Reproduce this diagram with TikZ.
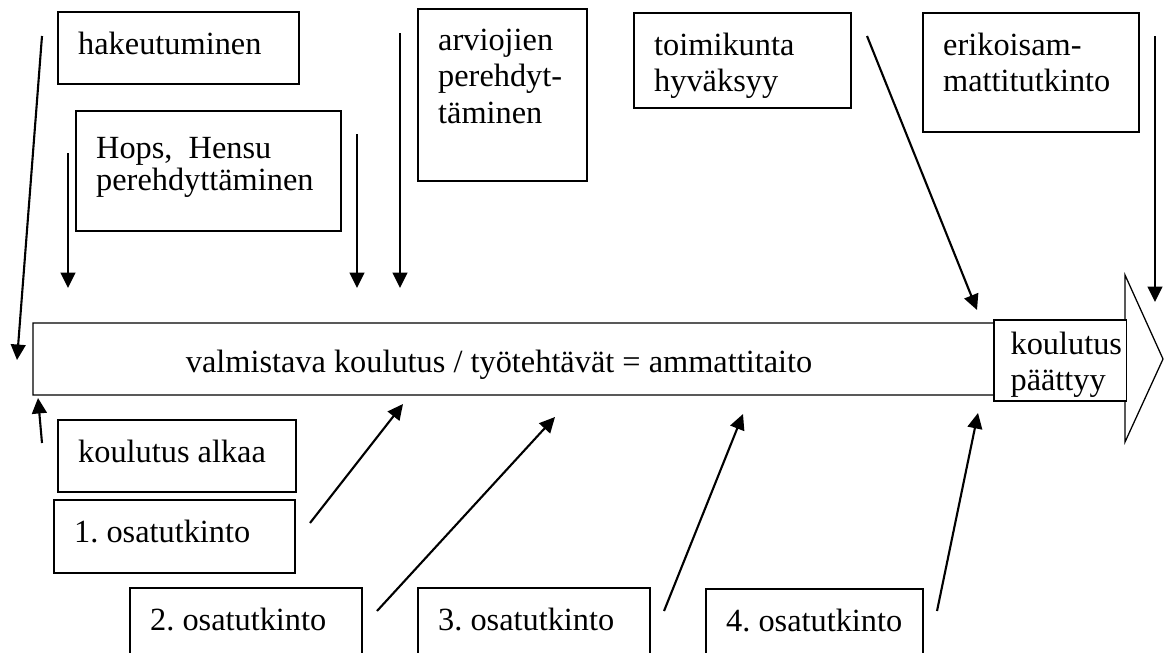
\documentclass[tikz,border=0pt]{standalone}
\usepackage{fontspec}
\setmainfont{Liberation Serif}
\usetikzlibrary{arrows.meta}
\newlength{\pxu}
\setlength{\pxu}{0.025cm}
\newcommand{\boxtext}[3]{\begin{minipage}[t][#2\pxu][t]{#1\pxu}\raggedright #3\end{minipage}}
\tikzset{
  tbox/.style={draw, line width=1.7pt, anchor=north west, inner sep=0.5cm, fill=white},
  arr/.style={-{Triangle[length=11pt,width=10.5pt]}, line width=1.5pt},
}

\begin{document}
\frenchspacing
\begin{tikzpicture}[x=0.025cm, y=-0.025cm, font=\fontsize{23}{25.8}\selectfont]
\clip (0,0) rectangle (1168,652);
% the long block arrow
\draw[line width=0.9pt] (33,323) -- (1125,323) -- (1125,275) -- (1163,359)
      -- (1125,442) -- (1125,395) -- (33,395) -- cycle;
\node[anchor=base] (bar) at (499,372) {valmistava koulutus / työtehtävät = ammattitaito};
\node[tbox, line width=1.1pt, inner xsep=0.42cm, inner ysep=0.3cm] (loppu) at (993,319) {\boxtext{99}{57}{koulutus\\päättyy}};

% boxes above
\node[tbox] (hak) at (57,11) {\boxtext{201}{32}{hakeutuminen}};
\node[tbox] (hops) at (75,110) {\boxtext{225}{80}{\baselineskip=32\pxu\vspace*{6\pxu}Hops,\ \ Hensu\\perehdyttäminen}};
\node[tbox] (arv) at (417,8) {\boxtext{129}{132}{arviojien\\perehdyt-\\täminen}};
\node[tbox] (toim) at (633,12) {\boxtext{177}{55}{toimikunta\\hyväksyy}};
\node[tbox] (erik) at (922,12) {\boxtext{176}{79}{erikoisam-\\mattitutkinto}};

% boxes below
\node[tbox] (alkaa) at (57,419) {\boxtext{198}{32}{koulutus alkaa}};
\node[tbox] (os1) at (53,499) {\boxtext{201}{33}{1. osatutkinto}};
\node[tbox] (os2) at (129,587) {\boxtext{192}{60}{2. osatutkinto}};
\node[tbox] (os3) at (417,587) {\boxtext{192}{60}{3. osatutkinto}};
\node[tbox] (os4) at (705,588) {\boxtext{177}{60}{4. osatutkinto}};

% arrows
\foreach \n/\p/\q in {a/{42,36}/{17,360}, b/{68,153}/{68,288}, c/{357,134}/{357,288},
    d/{400,33}/{400,288}, e/{867,36}/{977,310}, f/{1155,36}/{1155,302},
    g/{42,443}/{38,398}, h/{310,523}/{403,404}, i/{377,611}/{555,417},
    j/{664,611}/{743,414}, k/{937,611}/{978,413}}{
  \coordinate (\n s) at (\p);
  \coordinate (\n e) at (\q);
  \draw[arr] (\n s) -- (\n e);
}
\end{tikzpicture}
\end{document}
